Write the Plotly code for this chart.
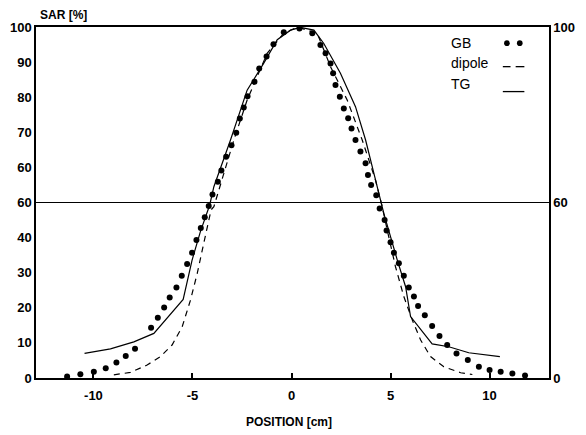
import plotly.graph_objects as go

# GB (dots)
gb_x = [-11.33, -10.66, -9.98, -9.38, -8.84, -8.37, -7.9, -7.09, -6.75, -6.43, -6.15, -5.81, -5.54,
        -5.27, -5.02, -4.8, -4.58, -4.38, -4.18, -3.99, -3.72, -3.54, -3.3, -3.03, -2.79, -2.61,
        -2.41, -2.22, -1.87, -1.63, -1.26, -0.91, -0.39, 0.4, 1.05, 1.46, 1.72, 1.97, 2.1, 2.22,
        2.44, 2.64, 2.86, 3.03, 3.23, 3.48, 3.74, 3.86, 4.02, 4.28, 4.45, 4.7, 4.8, 5.0, 5.17,
        5.42, 5.67, 5.92, 6.18, 6.39, 6.73, 7.1, 7.47, 7.86, 8.33, 8.9, 9.46, 10.0, 10.56, 11.15, 11.79]
gb_y = [0.4, 1.1, 1.8, 2.8, 4.4, 6.3, 8.3, 14.3, 17.2, 20.1, 22.9, 25.8, 29.1,
        32.5, 35.7, 39.3, 42.7, 45.8, 49.0, 52.3, 55.9, 59.1, 63.0, 66.3, 69.9, 73.9,
        77.1, 80.3, 84.4, 88.2, 91.6, 95.1, 98.5, 99.6, 98.2, 94.9, 92.5, 89.6, 86.8, 83.5,
        80.1, 76.8, 74.0, 71.1, 67.8, 64.5, 61.2, 57.8, 55.0, 52.1, 48.3, 45.0, 42.0, 38.7, 35.7,
        32.7, 29.1, 25.8, 23.2, 20.5, 17.9, 14.8, 12.0, 9.4, 7.0, 5.1, 3.2, 2.3, 1.8, 1.3, 0.7]

# dipole (dashed)
dip_x = [-8.97, -8.13, -7.29, -6.62, -6.03, -5.52, -5.1, -4.76, -4.43, -4.06, -3.92, -2.91, -2.24,
         -1.23, -0.39, 0.3, 1.3, 1.97, 2.81, 3.57, 4.24, 4.58, 4.83, 5.25, 5.67, 6.1, 6.52,
         7.02, 7.69, 8.54, 9.13]
dip_y = [0.9, 1.6, 3.7, 6.1, 9.4, 14.6, 22.2, 29.8, 38.4, 47.9, 48.8, 67.8, 79.2,
         92.5, 98.2, 100.0, 98.2, 88.7, 79.2, 67.8, 56.4, 48.8, 42.2, 31.7, 23.2, 16.5, 10.8,
         6.1, 3.2, 1.5, 1.0]

# TG (solid)
tg_x = [-10.45, -9.14, -7.96, -6.95, -5.47, -5.02, -4.6, -4.13, -3.92, -3.08, -2.24, -1.4, -0.72,
        -0.05, 0.45, 1.13, 1.63, 2.47, 3.23, 3.74, 4.16, 4.49, 4.66, 5.34, 5.76, 6.01, 7.1,
        7.94, 8.95, 10.52]
tg_y = [7.0, 8.3, 10.3, 12.7, 22.4, 33.6, 41.7, 49.3, 54.5, 67.8, 82.0, 89.7, 96.4,
        99.1, 99.9, 99.1, 95.3, 86.8, 77.3, 67.8, 58.3, 50.2, 46.9, 33.6, 26.0, 17.5, 9.7,
        8.9, 7.2, 6.1]

x_tickvals = [-10, -5, 0, 5, 10]
x_ticktext = ["-10", "-5", "0", "5", "10"]
y_tickvals = [0, 10, 20, 30, 40, 50, 60, 70, 80, 90, 100]
y_ticktext = ["0", "10", "20", "30", "40", "60", "60", "70", "80", "90", "100"]
y2_tickvals = [0, 50, 100]
y2_ticktext = ["0", "60", "100"]
legend_names = ["GB", "dipole", "TG"]

FONT = "Liberation Sans, Arial, sans-serif"
tickfont = dict(family=FONT, size=13, color="black", weight="bold")

fig = go.Figure()
fig.add_trace(go.Scatter(x=gb_x, y=gb_y, mode="markers",
                         marker=dict(color="black", size=6), name="GB", showlegend=False))
fig.add_trace(go.Scatter(x=dip_x, y=dip_y, mode="lines",
                         line=dict(color="black", width=1.2, dash="6px,5px"), name="dipole", showlegend=False))
fig.add_trace(go.Scatter(x=tg_x, y=tg_y, mode="lines",
                         line=dict(color="black", width=1.2), name="TG", showlegend=False))
# invisible trace to activate right axis
fig.add_trace(go.Scatter(x=[0], y=[0], yaxis="y2", mode="markers",
                         marker=dict(opacity=0), showlegend=False, hoverinfo="skip"))

# page body has an 8px margin, so the figure is sized/margined to compensate
fig.update_layout(
    width=578, height=427,
    margin=dict(l=28, r=37, t=19, b=57, autoexpand=False),
    paper_bgcolor="white", plot_bgcolor="white",
    xaxis=dict(range=[-12.9, 13.0], tickvals=x_tickvals, ticktext=x_ticktext, automargin=False,
               showgrid=False, zeroline=False, showline=True, linecolor="black", linewidth=1.5,
               mirror=True, ticks="inside", ticklen=5, tickwidth=1.5, tickcolor="black",
               tickfont=tickfont, ticklabelstandoff=5),
    yaxis=dict(range=[0, 100], tickvals=y_tickvals, ticktext=y_ticktext, automargin=False,
               showgrid=False, zeroline=False, showline=True, linecolor="black", linewidth=1.5,
               ticks="", tickfont=tickfont),
    yaxis2=dict(range=[0, 100], overlaying="y", side="right", tickvals=y2_tickvals,
                ticktext=y2_ticktext, showgrid=False, zeroline=False, showline=True,
                automargin=False, linecolor="black", linewidth=1.5, ticks="", tickfont=tickfont),
)

# horizontal reference line at 50
fig.add_shape(type="line", xref="paper", yref="y", x0=0, x1=1, y0=50, y1=50,
              line=dict(color="black", width=1.2))

# axis titles
fig.add_annotation(text="SAR [%]", xref="paper", yref="paper", x=0.004, y=1.034,
                   xanchor="left", yanchor="middle", showarrow=False,
                   font=dict(family=FONT, size=12, color="black", weight="bold"))
fig.add_annotation(text="POSITION [cm]", xref="paper", yref="paper", x=0.494, y=-0.125,
                   xanchor="center", yanchor="middle", showarrow=False,
                   font=dict(family=FONT, size=12, color="black", weight="bold"))

# custom legend (text left, symbol right)
leg_y = [0.954, 0.897, 0.838]
for name, yy in zip(legend_names, leg_y):
    fig.add_annotation(text=name, xref="paper", yref="paper", x=0.805, y=yy,
                       xanchor="left", yanchor="middle", showarrow=False,
                       font=dict(family=FONT, size=14, color="black"))
# GB dots
for xd in [0.918, 0.943]:
    fig.add_shape(type="circle", xref="paper", yref="paper",
                  x0=xd - 0.0055, x1=xd + 0.0055, y0=leg_y[0] - 0.008, y1=leg_y[0] + 0.008,
                  fillcolor="black", line=dict(color="black", width=0))
# dipole dashes
for x0, x1 in [(0.91, 0.925), (0.935, 0.952)]:
    fig.add_shape(type="line", xref="paper", yref="paper", x0=x0, x1=x1,
                  y0=leg_y[1] - 0.01, y1=leg_y[1] - 0.01, line=dict(color="black", width=1.3))
# TG line
fig.add_shape(type="line", xref="paper", yref="paper", x0=0.91, x1=0.952,
              y0=leg_y[2] - 0.022, y1=leg_y[2] - 0.022, line=dict(color="black", width=1.3))

fig.write_html("out.html")
